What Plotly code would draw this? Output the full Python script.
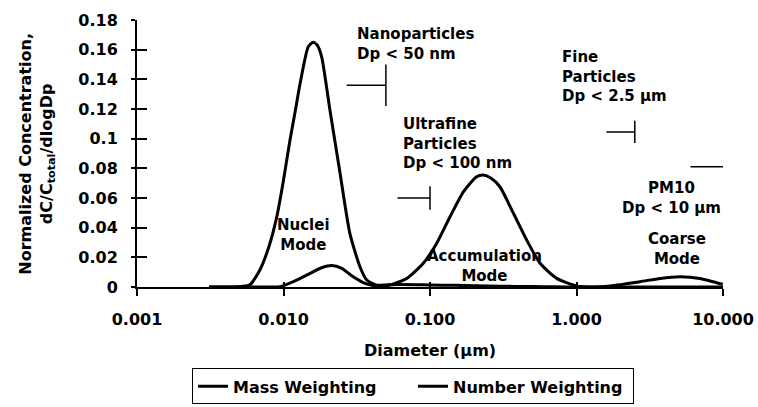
import math
import plotly.graph_objects as go

# ---------------- data ----------------
number_d = [0.0031, 0.0045, 0.0052, 0.0059, 0.0069, 0.0080, 0.0090, 0.0100, 0.01107, 0.0120,
            0.01297, 0.01476, 0.01596, 0.01700, 0.01823, 0.02077, 0.0243, 0.0284, 0.0333,
            0.0370, 0.0433, 0.050, 0.060, 0.080, 0.100, 0.150, 0.200, 0.300, 0.500, 0.700,
            1.00, 2.00, 5.00, 10.0]
number_c = [0.0, 0.0, 0.0004, 0.0015, 0.0115, 0.028, 0.0474, 0.072, 0.099, 0.118,
            0.137, 0.162, 0.165, 0.163, 0.155, 0.119, 0.077, 0.036, 0.0135,
            0.0047, 0.0012, 0.0014, 0.0017, 0.0016, 0.0014, 0.0011, 0.0008, 0.0005, 0.0003, 0.0001,
            0.0, 0.0, 0.0, 0.0]

mass_d = [0.0031, 0.0080, 0.00946, 0.01167, 0.0152, 0.0182, 0.0213, 0.0250, 0.0299, 0.0360,
          0.0433, 0.0533, 0.0693, 0.090, 0.111, 0.137, 0.169, 0.208, 0.231, 0.260, 0.300,
          0.371, 0.457, 0.564, 0.733, 1.00, 1.30, 1.69, 2.72, 3.72, 5.09, 6.96, 9.96]
mass_c = [0.0, 0.0, 0.0002, 0.0036, 0.0092, 0.013, 0.0145, 0.0126, 0.0069, 0.0025,
          0.0007, 0.0013, 0.0058, 0.016, 0.0294, 0.0474, 0.0642, 0.0743, 0.0755, 0.0735, 0.0676,
          0.0497, 0.0317, 0.016, 0.0058, 0.0007, 0.0, 0.0007, 0.0036, 0.0058, 0.0069, 0.0058, 0.0018]

x_tick_vals = [0.001, 0.01, 0.1, 1, 10]
x_tick_text = ["0.001", "0.010", "0.100", "1.000", "10.000"]
y_tick_vals = [0, 0.02, 0.04, 0.06, 0.08, 0.1, 0.12, 0.14, 0.16, 0.18]
y_tick_text = ["0", "0.02", "0.04", "0.06", "0.08", "0.1", "0.12", "0.14", "0.16", "0.18"]

# size-class cut-offs (µm) and their bracket markers
cut_sizes = [0.05, 0.1, 2.5, 10.0]
cut_left = [0.027, 0.060, 1.60, 6.0]
cut_level = [0.136, 0.060, 0.1045, 0.081]
cut_half = [0.014, 0.008, 0.0075, 0.0]

FONT = "DejaVu Sans, Verdana, sans-serif"

fig = go.Figure()
fig.add_trace(go.Scatter(x=mass_d, y=mass_c, mode="lines", name="Mass Weighting",
                         line=dict(color="black", width=3, shape="spline", smoothing=0.6)))
fig.add_trace(go.Scatter(x=number_d, y=number_c, mode="lines", name="Number Weighting",
                         line=dict(color="black", width=3, shape="spline", smoothing=0.6)))

for c, l, lv, h in zip(cut_sizes, cut_left, cut_level, cut_half):
    fig.add_trace(go.Scatter(x=[l, c], y=[lv, lv], mode="lines", showlegend=False,
                             hoverinfo="skip", line=dict(color="black", width=1.5)))
    if h > 0:
        fig.add_trace(go.Scatter(x=[c, c], y=[lv + h, lv - h], mode="lines", showlegend=False,
                                 hoverinfo="skip", line=dict(color="black", width=1.5)))

# dummy trace for the overlay axes that draw the inside half of the cross ticks
fig.add_trace(go.Scatter(x=[0.001], y=[0], xaxis="x2", yaxis="y2", mode="markers",
                         marker=dict(opacity=0), showlegend=False, hoverinfo="skip"))

bold = dict(family=FONT, size=15, color="black", weight="bold")
labels = [
    ("Nanoparticles<br>Dp < 50 nm", 0.0307, 0.1638, "left"),
    ("Ultrafine<br>Particles<br>Dp < 100 nm", 0.0634, 0.097, "left"),
    ("Fine<br>Particles<br>Dp < 2.5 µm", 0.771, 0.1422, "left"),
    ("PM10<br>Dp < 10 µm", 4.42, 0.060, "center"),
    ("Coarse<br>Mode", 4.85, 0.0256, "center"),
    ("Nuclei<br>Mode", 0.0136, 0.035, "center"),
    ("Accumulation<br>Mode", 0.237, 0.0142, "center"),
]
for txt, xv, yv, al in labels:
    fig.add_annotation(x=math.log10(xv), y=yv, xref="x", yref="y", text=txt, showarrow=False,
                       xanchor=al, yanchor="middle", align=al, font=bold)

fig.add_annotation(x=-0.172, y=0.5, xref="paper", yref="paper", textangle=-90,
                   text="Normalized Concentration,<br>dC/C<sub>total</sub>/dlogDp",
                   showarrow=False, xanchor="center", yanchor="middle",
                   font=dict(family=FONT, size=16, color="black", weight="bold"))
fig.add_annotation(x=0.5, y=-0.236, xref="paper", yref="paper", text="Diameter (µm)",
                   showarrow=False, xanchor="center", yanchor="middle",
                   font=dict(family=FONT, size=16, color="black", weight="bold"))

tickfont = dict(family=FONT, size=16, color="black", weight="bold")
fig.update_layout(
    width=758, height=407,
    margin=dict(l=137, r=35, t=20, b=120, autoexpand=False),
    paper_bgcolor="white", plot_bgcolor="white",
    showlegend=True,
    legend=dict(orientation="h", x=0.471, y=-0.305, xanchor="center", yanchor="top",
                bordercolor="black", borderwidth=1, bgcolor="white", itemwidth=30,
                entrywidth=175, entrywidthmode="pixels",
                font=dict(family=FONT, size=16, color="black", weight="bold")),
    xaxis=dict(type="log", range=[-3, 1], tickvals=x_tick_vals, ticktext=x_tick_text,
               showgrid=False, zeroline=False, showline=True, linecolor="black", linewidth=2,
               ticks="outside", ticklen=7, tickwidth=1.5, tickcolor="black", automargin=False,
               tickfont=tickfont, ticklabelstandoff=10),
    yaxis=dict(range=[0, 0.18], tickvals=y_tick_vals, ticktext=y_tick_text,
               showgrid=False, zeroline=False, showline=True, linecolor="black", linewidth=2,
               ticks="outside", ticklen=4, tickwidth=1.5, tickcolor="black", automargin=False,
               tickfont=tickfont, ticklabelstandoff=10),
    xaxis2=dict(type="log", range=[-3, 1], tickvals=x_tick_vals, overlaying="x", anchor="y2",
                side="bottom", showticklabels=False, showgrid=False, zeroline=False,
                showline=False, ticks="inside", ticklen=5, tickwidth=1.5, tickcolor="black"),
    yaxis2=dict(range=[0, 0.18], tickvals=y_tick_vals, overlaying="y", anchor="x2",
                side="left", showticklabels=False, showgrid=False, zeroline=False,
                showline=False, ticks="inside", ticklen=10, tickwidth=1.5, tickcolor="black"),
)

fig.write_html("out.html", config={"displayModeBar": False},
               post_script="document.body.style.margin='0';document.body.style.overflow='hidden';")
